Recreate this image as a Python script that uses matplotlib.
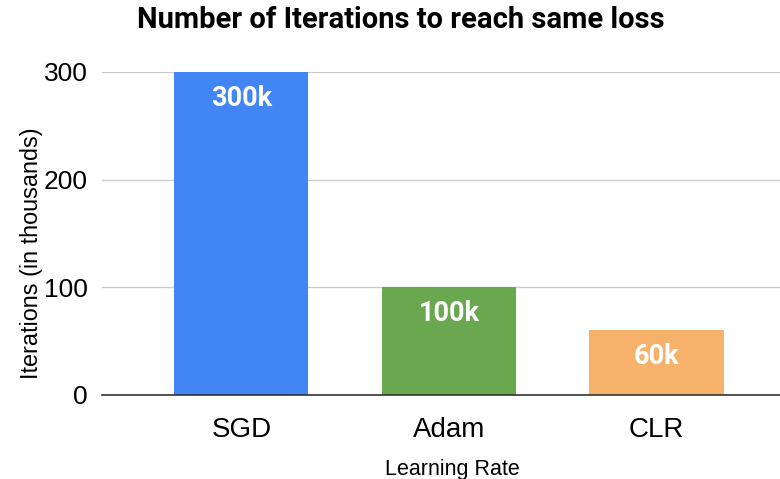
import matplotlib
matplotlib.use("Agg")
import matplotlib.pyplot as plt

categories = ["SGD", "Adam", "CLR"]
values = [300, 100, 60]
labels = ["300k", "100k", "60k"]
colors = ["#4285F4", "#6AA84F", "#F6B26B"]
yticks = [0, 100, 200, 300]

W, H = 780, 479
fig = plt.figure(figsize=(W / 100, H / 100), dpi=100)
ax = fig.add_axes([102 / W, (H - 395) / H, (780 - 102) / W, (395 - 72) / H])

bw = 0.646
bars = ax.bar(range(len(categories)), values, width=bw, color=colors, zorder=3)

ax.set_xlim(-0.672, 2.595)
ax.set_ylim(0, 300)
ax.set_yticks(yticks)
ax.set_yticklabels([str(t) for t in yticks], fontsize=19, family="Liberation Sans", color="#000000")
ax.set_xticks(range(len(categories)))
ax.set_xticklabels(categories, fontsize=20, family="Liberation Sans", color="#000000")
ax.tick_params(axis="both", length=0)
ax.tick_params(axis="x", pad=16)
ax.tick_params(axis="y", pad=10)

for s in ["top", "right", "left"]:
    ax.spines[s].set_visible(False)
ax.spines["bottom"].set_color("#333333")
ax.spines["bottom"].set_linewidth(1.2)
ax.spines["bottom"].set_zorder(4)
ax.grid(axis="y", color="#cccccc", linewidth=1, zorder=0)
ax.set_axisbelow(True)

for b, lab in zip(bars, labels):
    ax.annotate(lab, (b.get_x() + b.get_width() / 2, b.get_height()),
                xytext=(0, -19), textcoords="offset points",
                ha="center", va="center", color="white",
                fontsize=19.5, fontweight="bold", family="Roboto", zorder=5)

fig.text(401 / W, 1 - 20 / H, "Number of Iterations to reach same loss",
         ha="center", va="center", fontsize=21, fontweight="bold", family="Roboto")
fig.text(452 / W, 1 - 469 / H, "Learning Rate", ha="center", va="center",
         fontsize=15.5, family="Liberation Sans")
fig.text(32 / W, 1 - 253 / H, "Iterations (in thousands)", ha="center", va="center",
         rotation=90, fontsize=16.8, family="Liberation Sans")

fig.savefig("out.png", dpi=100)
